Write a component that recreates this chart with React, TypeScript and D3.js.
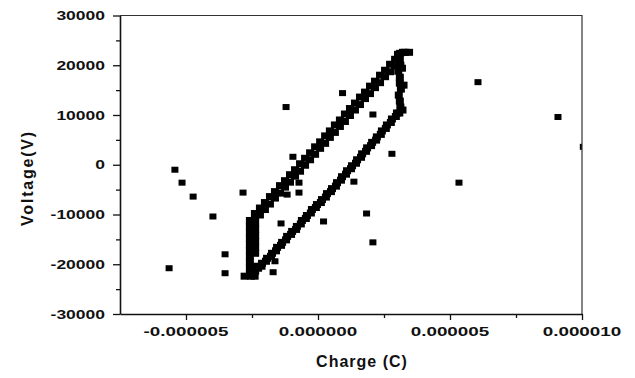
import React, { useRef, useEffect } from "react";
import * as d3 from "d3";

// rising branch of the loop (two overlapping traces)
const upperCharge = [-2.39e-6, -2.2e-6, -2.01e-6, -1.82e-6, -1.63e-6, -1.44e-6, -1.25e-6, -1.06e-6, -0.87e-6, -0.68e-6, -0.49e-6, -0.3e-6, -0.11e-6, 0.08e-6, 0.27e-6, 0.45e-6, 0.64e-6, 0.83e-6, 1.02e-6, 1.21e-6, 1.4e-6, 1.59e-6, 1.78e-6, 1.97e-6, 2.16e-6, 2.35e-6, 2.54e-6, 2.73e-6, 2.92e-6, 3.11e-6, 3.3e-6];
const upperVoltage = [-9800, -8700, -7600, -6400, -5400, -4200, -3200, -2000, -1000, 200, 1300, 2400, 3600, 4600, 5800, 6800, 8000, 9000, 10200, 11300, 12400, 13600, 14600, 15800, 16800, 18000, 19000, 20200, 21200, 22400, 22600];
const upper2Charge = [-2.2e-6, -2.01e-6, -1.82e-6, -1.63e-6, -1.44e-6, -1.25e-6, -1.06e-6, -0.87e-6, -0.68e-6, -0.49e-6, -0.3e-6, -0.11e-6, 0.08e-6, 0.27e-6, 0.45e-6, 0.64e-6, 0.83e-6, 1.02e-6, 1.21e-6, 1.4e-6, 1.59e-6, 1.78e-6, 1.97e-6, 2.16e-6, 2.35e-6, 2.54e-6, 2.73e-6, 2.92e-6];
const upper2Voltage = [-10100, -9000, -7900, -6700, -5700, -4500, -3500, -2300, -1300, -100, 1000, 2100, 3300, 4300, 5500, 6500, 7700, 8700, 9900, 11000, 12100, 13300, 14300, 15500, 16500, 17700, 18700, 19900];

// falling branch of the loop (two traces)
const lowerCharge = [-2.27e-6, -2.12e-6, -1.93e-6, -1.74e-6, -1.55e-6, -1.36e-6, -1.17e-6, -0.98e-6, -0.8e-6, -0.61e-6, -0.42e-6, -0.23e-6, -0.04e-6, 0.15e-6, 0.34e-6, 0.53e-6, 0.72e-6, 0.91e-6, 1.1e-6, 1.29e-6, 1.48e-6, 1.67e-6, 1.86e-6, 2.05e-6, 2.23e-6, 2.42e-6, 2.61e-6, 2.8e-6, 2.99e-6];
const lowerVoltage = [-20800, -19800, -18800, -17800, -16600, -15600, -14400, -13400, -12400, -11200, -10200, -9000, -8000, -7000, -5800, -4800, -3600, -2400, -1200, -200, 1000, 2200, 3400, 4500, 5600, 6800, 8000, 9200, 10400];
const lower2Charge = [-2.14e-6, -1.97e-6, -1.78e-6, -1.59e-6, -1.4e-6, -1.21e-6, -1.02e-6, -0.83e-6, -0.65e-6, -0.46e-6, -0.27e-6, -0.08e-6, 0.11e-6, 0.3e-6, 0.49e-6, 0.68e-6, 0.87e-6, 1.06e-6, 1.25e-6, 1.44e-6, 1.63e-6, 1.82e-6, 2.01e-6, 2.2e-6, 2.38e-6, 2.57e-6, 2.76e-6, 2.95e-6];
const lower2Voltage = [-20400, -19400, -18400, -17300, -16200, -15100, -14000, -13000, -11900, -10800, -9700, -8600, -7600, -6500, -5400, -4300, -3100, -1900, -800, 300, 1500, 2700, 3850, 4950, 6100, 7300, 8500, 9700];

// vertical edges (charge held while voltage turns)
const rightCharge = [3.08e-6, 3.12e-6, 3.1e-6, 3.06e-6, 3.14e-6, 3.1e-6, 3.1e-6, 3.04e-6, 3.12e-6, 3.1e-6, 3.03e-6, 3.22e-6, 3.45e-6, 3.2e-6, 3.24e-6, 3.18e-6];
const rightVoltage = [10400, 11600, 12800, 14000, 15200, 16400, 17600, 18800, 20000, 21200, 22200, 22600, 22600, 11000, 16000, 19400];
const leftCharge = [-2.58e-6, -2.58e-6, -2.58e-6, -2.58e-6, -2.58e-6, -2.58e-6, -2.58e-6, -2.58e-6, -2.58e-6, -2.58e-6, -2.38e-6, -2.38e-6, -2.38e-6, -2.38e-6, -2.38e-6, -2.38e-6, -2.38e-6, -2.38e-6, -2.38e-6, -2.78e-6, -2.54e-6, -2.4e-6, -2.25e-6];
const leftVoltage = [-11200, -12400, -13600, -14800, -16000, -17200, -18400, -19600, -20800, -22000, -10400, -11800, -13000, -14200, -15400, -16600, -17800, -20400, -21400, -22400, -22400, -22400, -10000];

// scattered points
const strayCharge = [-5.64e-6, -5.42e-6, -5.15e-6, -4.73e-6, -3.98e-6, -3.52e-6, -3.52e-6, -2.84e-6, -1.7e-6, -1.63e-6, -1.4e-6, -1.21e-6, -1.17e-6, -0.95e-6, -0.72e-6, -0.72e-6, 0.21e-6, 0.93e-6, 1.36e-6, 1.84e-6, 2.08e-6, 2.08e-6, 2.8e-6, 5.34e-6, 6.06e-6, 9.09e-6, 10.05e-6];
const strayVoltage = [-20800, -1000, -3600, -6400, -10400, -18000, -21800, -5600, -21600, -19400, -11800, 11600, -6000, 1600, -3600, -5600, -11400, 14400, -3400, -9800, 10100, -15600, 2200, -3600, 16600, 9600, 3600];

const yTicks = [-30000, -20000, -10000, 0, 10000, 20000, 30000];
const yMinor = [-25000, -15000, -5000, 5000, 15000, 25000];
const xTicks = [-5e-6, 0, 5e-6, 1e-5];
const xMinor = [-2.5e-6, 2.5e-6, 7.5e-6];

const App: React.FC = () => {
    const svgRef = useRef<SVGSVGElement | null>(null);

    useEffect(() => {
        if (!svgRef.current) return;

        const width = 635;
        const height = 378;
        const left = 120, right = 582, top = 15.5, bottom = 314;
        const font = "'Liberation Sans', Arial, sans-serif";

        const x = d3.scaleLinear().domain([-7.5e-6, 1e-5]).range([left, right]);
        const y = d3.scaleLinear().domain([-30000, 30000]).range([bottom, top]);

        const svg = d3.select(svgRef.current)
            .attr("width", width)
            .attr("height", height);

        svg.selectAll("*").remove();

        svg.append("rect").attr("class", "bg").attr("width", width).attr("height", height).attr("fill", "#fff");

        svg.append("clipPath").attr("id", "plot-clip")
            .append("rect")
            .attr("x", left).attr("y", top)
            .attr("width", right - left).attr("height", bottom - top);

        // loop points drawn a touch bigger, they overlap into solid bands
        const loop: [number, number][] = [];
        const add = (qs: number[], vs: number[]) => qs.forEach((q, i) => loop.push([q, vs[i]]));
        add(upperCharge, upperVoltage);
        add(upper2Charge, upper2Voltage);
        add(lowerCharge, lowerVoltage);
        add(lower2Charge, lower2Voltage);
        add(rightCharge, rightVoltage);
        add(leftCharge, leftVoltage);
        const stray: [number, number][] = strayCharge.map((q, i) => [q, strayVoltage[i]]);

        const marks = svg.append("g").attr("clip-path", "url(#plot-clip)");
        marks.append("g")
            .selectAll("rect")
            .data(loop)
            .join("rect")
            .attr("x", d => x(d[0]) - 4)
            .attr("y", d => y(d[1]) - 3.5)
            .attr("width", 8)
            .attr("height", 7)
            .attr("fill", "#000");
        marks.append("g")
            .selectAll("rect")
            .data(stray)
            .join("rect")
            .attr("x", d => x(d[0]) - 3.5)
            .attr("y", d => y(d[1]) - 3)
            .attr("width", 7)
            .attr("height", 6)
            .attr("fill", "#000");

        // frame: top and right thin
        svg.append("path")
            .attr("d", `M${left},${top}H${right}V${bottom}`)
            .attr("fill", "none")
            .attr("stroke", "#333")
            .attr("stroke-width", 1.2);

        svg.append("g").attr("transform", `translate(${left},0)`)
            .call(d3.axisLeft(y).tickValues(yTicks).tickSize(7).tickSizeOuter(0).tickFormat(() => ""));
        svg.append("g").attr("transform", `translate(${left},0)`)
            .call(d3.axisLeft(y).tickValues(yMinor).tickSize(4).tickSizeOuter(0).tickFormat(() => ""))
            .select(".domain").remove();
        svg.append("g").attr("transform", `translate(0,${bottom})`)
            .call(d3.axisBottom(x).tickValues(xTicks).tickSize(6).tickSizeOuter(0).tickFormat(() => ""));
        svg.append("g").attr("transform", `translate(0,${bottom})`)
            .call(d3.axisBottom(x).tickValues(xMinor).tickSize(4).tickSizeOuter(0).tickFormat(() => ""))
            .select(".domain").remove();

        svg.selectAll(".domain").attr("stroke", "#111").attr("stroke-width", 1.6);
        svg.selectAll(".tick line").attr("stroke", "#111").attr("stroke-width", 1.3);

        svg.append("g")
            .selectAll("text")
            .data(yTicks)
            .join("text")
            .attr("transform", d => `translate(105,${y(d) + 4.5}) scale(1.4,1)`)
            .attr("text-anchor", "end")
            .style("font", `bold 12.5px ${font}`)
            .attr("fill", "#111")
            .text(d => String(d));

        svg.append("g")
            .selectAll("text")
            .data(xTicks)
            .join("text")
            .attr("transform", d => `translate(${x(d)},336) scale(1.45,1)`)
            .attr("text-anchor", "middle")
            .style("font", `bold 13px ${font}`)
            .attr("fill", "#111")
            .text(d => d.toFixed(6));

        svg.append("text")
            .attr("x", 362).attr("y", 367)
            .attr("text-anchor", "middle")
            .style("font", `bold 16px ${font}`)
            .style("letter-spacing", "1px")
            .attr("fill", "#111")
            .text("Charge (C)");

        svg.append("text")
            .attr("transform", "translate(33,178) rotate(-90)")
            .attr("text-anchor", "middle")
            .style("font", `bold 16px ${font}`)
            .style("letter-spacing", "1.8px")
            .attr("fill", "#111")
            .text("Voltage(V)");
    }, []);

    return <svg ref={svgRef} style={{ position: "absolute", left: 0, top: 0 }} />;
};

export default App;
